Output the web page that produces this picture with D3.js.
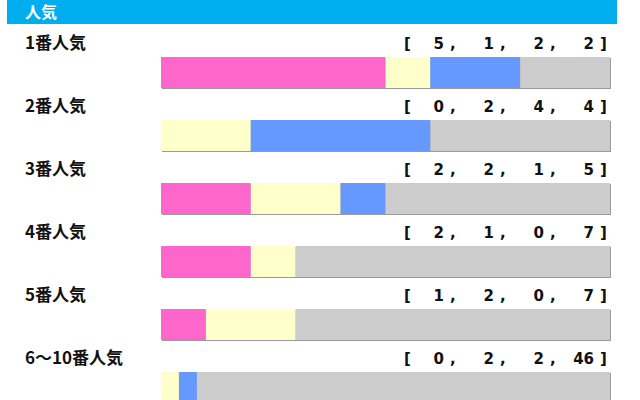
<!DOCTYPE html>
<html>
<head>
<meta charset="utf-8">
<script src="https://cdn.jsdelivr.net/npm/d3@7"></script>
<style>
  body { margin: 0; background: #fff; }
</style>
</head>
<body>
<div id="chart"></div>
<script>
var width = 640
var height = 400

// 人気別成績 [1着, 2着, 3着, 着外]
var categories = ["1番人気", "2番人気", "3番人気", "4番人気", "5番人気", "6～10番人気"]
var first = [5, 0, 2, 2, 1, 0]
var second = [1, 2, 2, 1, 2, 2]
var third = [2, 4, 1, 0, 0, 2]
var other = [2, 4, 5, 7, 7, 46]

var colors = ["#ff66cc", "#ffffcc", "#6699ff", "#cccccc"]

var svg = d3.select("#chart")
    .append("svg")
    .attr("width", width)
    .attr("height", height)

// header band
svg.append("rect")
    .attr("x", 7)
    .attr("y", 0)
    .attr("width", 610)
    .attr("height", 24)
    .attr("fill", "#00aeef")

svg.append("text")
    .attr("x", 25)
    .attr("y", 18)
    .attr("fill", "#fff")
    .attr("font-family", "'Noto Sans CJK JP', sans-serif")
    .attr("font-weight", "bold")
    .attr("font-size", 16)
    .text("人気")

var rows = categories.map(function(c, i){
    var vals = [first[i], second[i], third[i], other[i]]
    return {name: c, vals: vals, total: d3.sum(vals)}
})

var y = d3.scaleLinear()
    .domain([0, categories.length - 1])
    .range([57, 372])

var x = d3.scaleLinear()
    .domain([0, 1])
    .range([161, 610])

var barH = 31

var row = svg.selectAll(".row")
    .data(rows)
    .enter()
    .append("g")
    .attr("class", "row")
    .attr("transform", (d, i) => "translate(0," + y(i) + ")")

row.append("text")
    .attr("x", 25)
    .attr("y", -8)
    .attr("fill", "#111")
    .attr("font-family", "'Noto Sans CJK JP', sans-serif")
    .attr("font-weight", "bold")
    .attr("font-size", 17)
    .text(d => d.name)

// soft shadow under each bar
row.append("rect")
    .attr("x", x(0) + 1)
    .attr("y", 1)
    .attr("width", x(1) - x(0))
    .attr("height", barH)
    .attr("fill", "#9a9a9a")

row.selectAll(".seg")
    .data(function(d){
        var acc = 0
        return d.vals.map(function(v, k){
            var s = {start: acc / d.total, end: (acc + v) / d.total, k: k}
            acc += v
            return s
        })
    })
    .enter()
    .append("rect")
    .attr("class", "seg")
    .attr("x", d => x(d.start))
    .attr("y", 0)
    .attr("width", d => x(d.end) - x(d.start))
    .attr("height", barH)
    .attr("fill", d => colors[d.k])

// [ a, b, c, d ]
var colX = [444, 494, 544, 594]
var numFont = "'DejaVu Sans', Verdana, sans-serif"

row.append("text")
    .attr("x", 404)
    .attr("y", -8)
    .attr("font-family", numFont)
    .attr("font-weight", "bold")
    .attr("font-size", 15)
    .attr("fill", "#111")
    .text("[")

row.append("text")
    .attr("x", 600)
    .attr("y", -8)
    .attr("font-family", numFont)
    .attr("font-weight", "bold")
    .attr("font-size", 15)
    .attr("fill", "#111")
    .text("]")

row.selectAll(".num")
    .data(d => d.vals)
    .enter()
    .append("text")
    .attr("class", "num")
    .attr("x", (v, k) => colX[k])
    .attr("y", -8)
    .attr("text-anchor", "end")
    .attr("font-family", numFont)
    .attr("font-weight", "bold")
    .attr("font-size", 15)
    .attr("fill", "#111")
    .text(v => v)

row.selectAll(".comma")
    .data(d => d.vals.slice(0, 3))
    .enter()
    .append("text")
    .attr("class", "comma")
    .attr("x", (v, k) => colX[k] + 6)
    .attr("y", -8)
    .attr("font-family", numFont)
    .attr("font-weight", "bold")
    .attr("font-size", 15)
    .attr("fill", "#111")
    .text(",")
</script>
</body>
</html>
